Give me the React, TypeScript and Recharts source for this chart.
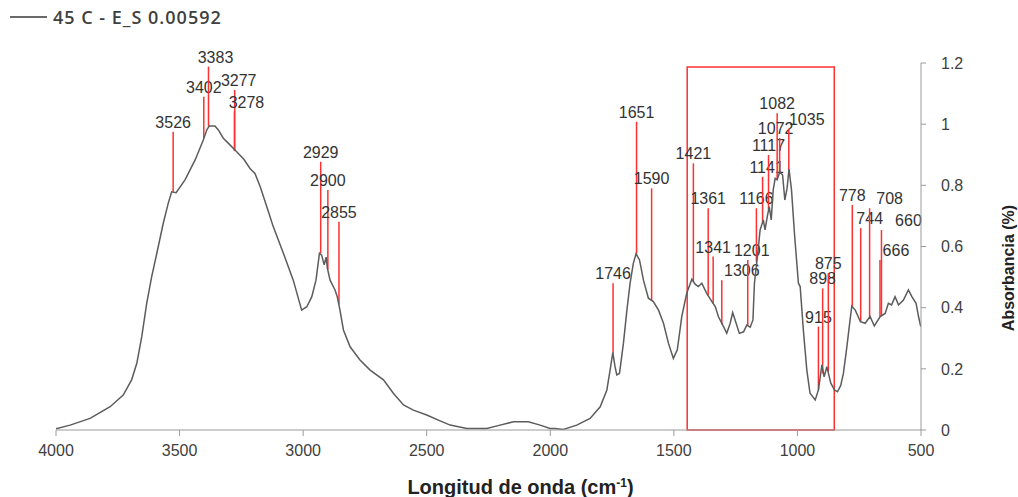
import {
  LineChart,
  Line,
  XAxis,
  YAxis,
  ReferenceLine,
  ReferenceArea,
} from 'recharts';

// FTIR spectrum, sample 45 C - E_S 0.00592
const WAVENUMBER = [
  4000, 3943, 3862, 3781, 3728, 3694, 3673, 3653, 3633, 3613, 3592, 3566, 3546, 3532, 3514,
  3478, 3437, 3404, 3390, 3380, 3357, 3343, 3323, 3303, 3269, 3240, 3215, 3195, 3174, 3147,
  3121, 3080, 3040, 3006, 2985, 2965, 2948, 2934, 2925, 2915, 2907, 2902, 2891, 2871, 2862,
  2851, 2837, 2810, 2770, 2729, 2675, 2635, 2594, 2554, 2500, 2446, 2405, 2338, 2257, 2203,
  2149, 2089, 2041, 2001, 1981, 1947, 1893, 1839, 1798, 1771, 1758, 1747, 1738, 1731, 1720,
  1704, 1690, 1677, 1664, 1653, 1639, 1623, 1603, 1583, 1562, 1542, 1522, 1502, 1486, 1468,
  1448, 1427, 1414, 1401, 1387, 1367, 1346, 1332, 1320, 1299, 1286, 1272, 1262, 1248, 1235,
  1218, 1205, 1191, 1180, 1174, 1162, 1151, 1138, 1131, 1122, 1114, 1106, 1098, 1090, 1082,
  1071, 1060, 1051, 1042, 1034, 1024, 1011, 996, 989, 976, 962, 949, 928, 915, 901,
  892, 881, 865, 850, 838, 825, 814, 800, 787, 780, 766, 745, 726, 706, 689,
  665, 645, 632, 619, 605, 591, 571, 551, 537, 520, 510, 501,
];

const ABSORBANCE = [
  0.004, 0.016, 0.038, 0.076, 0.114, 0.164, 0.218, 0.305, 0.414, 0.501, 0.578, 0.676, 0.741, 0.779, 0.776,
  0.818, 0.883, 0.948, 0.981, 0.994, 0.994, 0.981, 0.954, 0.938, 0.91, 0.885, 0.855, 0.839, 0.796, 0.73,
  0.665, 0.578, 0.49, 0.392, 0.403, 0.436, 0.49, 0.578, 0.572, 0.54, 0.565, 0.529, 0.49, 0.458, 0.436,
  0.392, 0.327, 0.272, 0.229, 0.196, 0.164, 0.12, 0.082, 0.065, 0.049, 0.03, 0.016, 0.005, 0.005, 0.016,
  0.027, 0.027, 0.016, 0.005, 0.005, 0.002, 0.016, 0.038, 0.076, 0.131, 0.196, 0.253, 0.207, 0.18, 0.185,
  0.284, 0.392, 0.48, 0.545, 0.576, 0.556, 0.49, 0.431, 0.42, 0.392, 0.349, 0.284, 0.234, 0.262, 0.371,
  0.447, 0.493, 0.477, 0.469, 0.48, 0.447, 0.42, 0.403, 0.371, 0.338, 0.316, 0.349, 0.384, 0.349, 0.316,
  0.321, 0.343, 0.336, 0.36, 0.48, 0.567, 0.654, 0.687, 0.654, 0.698, 0.73, 0.687, 0.785, 0.823, 0.818,
  0.845, 0.834, 0.752, 0.79, 0.853, 0.785, 0.632, 0.48, 0.469, 0.327, 0.196, 0.12, 0.098, 0.131, 0.213,
  0.174, 0.207, 0.153, 0.131, 0.125, 0.145, 0.185, 0.272, 0.36, 0.405, 0.392, 0.354, 0.349, 0.371, 0.34,
  0.371, 0.381, 0.414, 0.409, 0.436, 0.409, 0.425, 0.458, 0.436, 0.414, 0.371, 0.338,
];

// assigned bands: position, where the marker starts on the curve, where it ends (label height)
const PEAK_WN = [
  3526, 3402, 3383, 3277, 3278, 2929, 2900, 2855, 1746, 1651, 1590, 1421, 1361, 1341, 1306,
  1201, 1166, 1141, 1117, 1082, 1072, 1035, 915, 898, 875, 778, 744, 708, 666, 660,
];
const PEAK_BASE = [
  0.779, 0.955, 0.992, 0.915, 0.912, 0.578, 0.525, 0.41, 0.25, 0.574, 0.423, 0.485, 0.44, 0.414, 0.345,
  0.341, 0.55, 0.68, 0.72, 0.818, 0.843, 0.85, 0.131, 0.185, 0.19, 0.403, 0.354, 0.369, 0.37, 0.374,
];
const PEAK_TOP = [
  0.975, 1.09, 1.188, 1.112, 1.041, 0.877, 0.785, 0.681, 0.48, 1.008, 0.79, 0.872, 0.725, 0.567, 0.49,
  0.556, 0.725, 0.828, 0.899, 1.036, 0.955, 0.985, 0.338, 0.463, 0.512, 0.736, 0.66, 0.725, 0.556, 0.654,
];

// fingerprint region highlighted with a frame
const BOX_FROM = 1446;
const BOX_TO = 851;
const BOX_TOP = 1.187;

const X_TICKS = [4000, 3500, 3000, 2500, 2000, 1500, 1000, 500];
const Y_TICKS = [0, 0.2, 0.4, 0.6, 0.8, 1, 1.2];

const spectrum = WAVENUMBER.map((wn, i) => ({ wn, abs: ABSORBANCE[i] }));

// sideways nudges (px) so crowded band labels don't sit on each other
const LABEL_DX: Record<number, number> = {
  3383: 7,
  3277: 4,
  3278: 12,
  1306: 20,
  1201: 4,
  1141: 4,
  1072: -4,
  1035: 18,
  744: 9,
  708: 20,
  666: 16,
  660: 27,
};

const RED = '#ff3030';
const AXIS = '#9a9a9a';
const FONT = 'Liberation Sans, Arial, sans-serif';
const TICK_TEXT = { fill: '#404040', fontSize: 16, fontFamily: FONT };

const XTitle = ({ viewBox }: any) => {
  const cx = viewBox.x + viewBox.width / 2 + 32;
  return (
    <text
      x={cx}
      y={viewBox.y + viewBox.height + 34}
      textAnchor="middle"
      fontFamily={FONT}
      fontWeight="bold"
      fontSize={20}
      fill="#222"
    >
      Longitud de onda (cm
      <tspan dy={-7} fontSize={12}>-1</tspan>
      <tspan dy={7}>)</tspan>
    </text>
  );
};

const YTitle = ({ viewBox }: any) => {
  const x = viewBox.x + viewBox.width - 10;
  const y = 268;
  return (
    <text
      x={x}
      y={y}
      transform={`rotate(-90, ${x}, ${y})`}
      textAnchor="middle"
      dominantBaseline="central"
      fontFamily={FONT}
      fontWeight="bold"
      fontSize={16}
      fill="#222"
    >
      Absorbancia (%)
    </text>
  );
};

const PeakLabel = ({ viewBox, value, dx }: any) => {
  const x = viewBox.x + viewBox.width / 2 + (dx || 0);
  const y = viewBox.y - 4;
  return (
    <text x={x} y={y} textAnchor="middle" fontFamily={FONT} fontSize={16} fill="#333">
      {value}
    </text>
  );
};

export default function App() {
  return (
    <div style={{ position: 'absolute', left: 0, top: 0, width: 1018, height: 497, background: '#fff' }}>
      <div
        style={{
          position: 'absolute',
          left: 10,
          top: 5,
          display: 'flex',
          alignItems: 'center',
          fontFamily: 'Open Sans, sans-serif',
          fontWeight: 600,
          fontSize: 18,
          letterSpacing: 1,
          color: '#404040',
        }}
      >
        <span style={{ display: 'inline-block', width: 37, height: 2, background: '#6a6a6a', marginRight: 6 }} />
        45 C - E_S 0.00592
      </div>
      <LineChart
        width={1018}
        height={497}
        data={spectrum}
        margin={{ top: 63, right: 0, bottom: 37, left: 56 }}
      >
        <XAxis
          type="number"
          dataKey="wn"
          domain={[500, 4000]}
          reversed
          ticks={X_TICKS}
          interval={0}
          allowDataOverflow
          stroke={AXIS}
          tickSize={6}
          tickMargin={9}
          tick={TICK_TEXT}
          height={30}
          label={<XTitle />}
        />
        <YAxis
          orientation="right"
          domain={[0, 1.2]}
          ticks={Y_TICKS}
          interval={0}
          allowDataOverflow
          stroke={AXIS}
          tickSize={5}
          tickMargin={15}
          tick={TICK_TEXT}
          width={97}
          tickFormatter={(v: number) => String(+v.toFixed(1))}
          label={<YTitle />}
        />
        <ReferenceArea
          x1={BOX_FROM}
          x2={BOX_TO}
          y1={0}
          y2={BOX_TOP}
          fill="none"
          stroke={RED}
          strokeWidth={1.5}
          fillOpacity={0}
        />
        {PEAK_WN.map((wn, i) => (
          <ReferenceLine
            key={`${wn}-${i}`}
            segment={[
              { x: wn, y: PEAK_BASE[i] },
              { x: wn, y: PEAK_TOP[i] },
            ]}
            stroke={RED}
            strokeWidth={1.5}
            label={<PeakLabel value={String(wn)} dx={LABEL_DX[wn]} />}
          />
        ))}
        <Line
          type="linear"
          dataKey="abs"
          stroke="#5c5c5c"
          strokeWidth={1.5}
          dot={false}
          isAnimationActive={false}
        />
      </LineChart>
    </div>
  );
}
